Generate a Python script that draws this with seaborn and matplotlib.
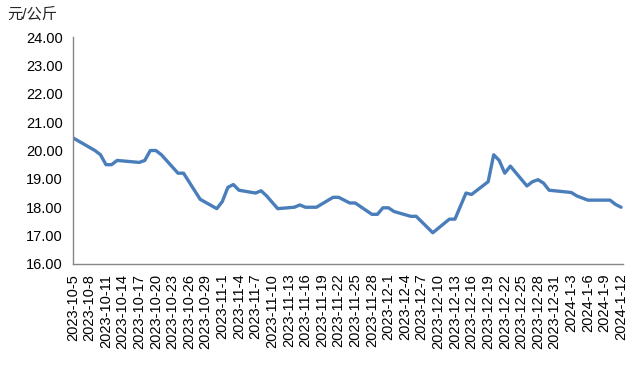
import matplotlib
matplotlib.use("Agg")
import matplotlib.pyplot as plt
import matplotlib.dates as mdates
import pandas as pd
import seaborn as sns

# price series, yuan per kg
dates = [
    "2023-10-5", "2023-10-9", "2023-10-10", "2023-10-11", "2023-10-12", "2023-10-13",
    "2023-10-17", "2023-10-18", "2023-10-19", "2023-10-20", "2023-10-21", "2023-10-24",
    "2023-10-25", "2023-10-28", "2023-10-31", "2023-11-1", "2023-11-2", "2023-11-3",
    "2023-11-4", "2023-11-7", "2023-11-8", "2023-11-9", "2023-11-11", "2023-11-14",
    "2023-11-15", "2023-11-16", "2023-11-18", "2023-11-21", "2023-11-22", "2023-11-24",
    "2023-11-25", "2023-11-28", "2023-11-29", "2023-11-30", "2023-12-1", "2023-12-2",
    "2023-12-5", "2023-12-6", "2023-12-9", "2023-12-12", "2023-12-13", "2023-12-15",
    "2023-12-16", "2023-12-19", "2023-12-20", "2023-12-21", "2023-12-22", "2023-12-23",
    "2023-12-26", "2023-12-27", "2023-12-28", "2023-12-29", "2023-12-30", "2024-1-3",
    "2024-1-4", "2024-1-6", "2024-1-9", "2024-1-10", "2024-1-11", "2024-1-12",
]
prices = [
    20.45, 20.00, 19.85, 19.50, 19.50, 19.65,
    19.58, 19.65, 20.00, 20.00, 19.85, 19.20,
    19.20, 18.28, 17.95, 18.20, 18.70, 18.80,
    18.60, 18.50, 18.58, 18.40, 17.95, 18.00,
    18.08, 18.00, 18.00, 18.35, 18.35, 18.15,
    18.15, 17.75, 17.75, 17.98, 17.98, 17.85,
    17.68, 17.68, 17.10, 17.58, 17.58, 18.50,
    18.45, 18.90, 19.85, 19.65, 19.20, 19.45,
    18.75, 18.90, 18.97, 18.85, 18.60, 18.52,
    18.40, 18.25, 18.25, 18.25, 18.10, 18.00,
]
y_ticks = [16, 17, 18, 19, 20, 21, 22, 23, 24]

df = pd.DataFrame({"date": pd.to_datetime(dates), "price": prices})

sns.set_theme(style="white")
plt.rcParams["font.family"] = ["Liberation Sans", "Noto Sans CJK SC", "DejaVu Sans"]

fig = plt.figure(figsize=(6.44, 3.82), dpi=100)
ax = fig.add_axes([0.113, 0.309, 0.854, 0.594])

sns.lineplot(data=df, x="date", y="price", color="#4a7ebb", linewidth=2.4, ax=ax)

start = pd.Timestamp("2023-10-5")
end = pd.Timestamp("2024-1-12")
x_ticks = pd.date_range(start, end, freq="3D")
ax.set_xticks(x_ticks)
ax.set_xticklabels([f"{d.year}-{d.month}-{d.day}" for d in x_ticks],
                   rotation=90, fontsize=10.5)
ax.set_xlim(start, end + pd.Timedelta(days=0.3))

ax.set_ylim(16, 24)
ax.set_yticks(y_ticks)
ax.set_yticklabels([f"{v:.2f}" for v in y_ticks], fontsize=10.5)

ax.set_xlabel("")
ax.set_ylabel("")
ax.grid(False)
for side in ["top", "right"]:
    ax.spines[side].set_visible(False)
for side in ["left", "bottom"]:
    ax.spines[side].set_color("#868686")
    ax.spines[side].set_linewidth(1.0)
ax.tick_params(axis="both", direction="out", length=5, width=1.0, color="#868686",
               colors="black", pad=2)
ax.tick_params(axis="both", color="#868686")

fig.text(0.012, 0.962, "元/公斤", fontsize=11, va="center", ha="left")

fig.savefig("out.png", dpi=100)
